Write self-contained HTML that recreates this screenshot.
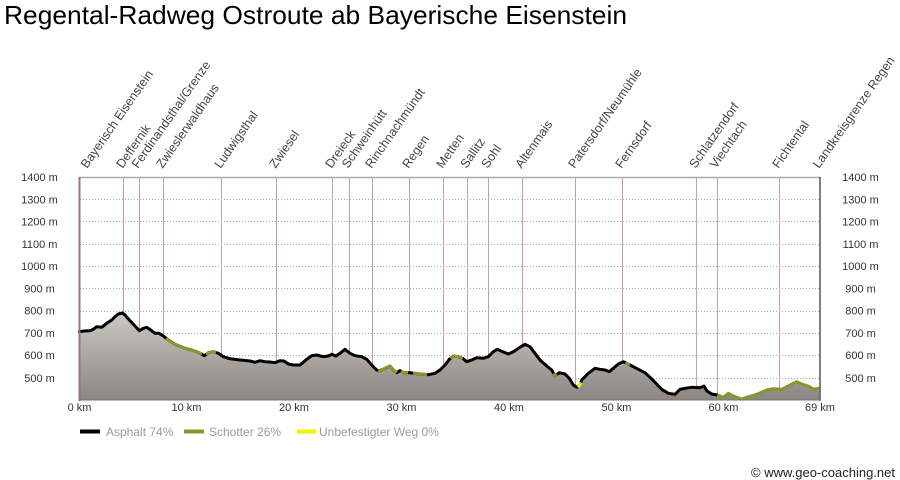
<!DOCTYPE html>
<html>
<head>
<meta charset="utf-8">
<style>
  html,body{margin:0;padding:0;background:#fff;}
  svg{display:block;}
  text{font-family:"Liberation Sans", Arial, sans-serif;}
</style>
</head>
<body>
<svg width="900" height="480" viewBox="0 0 900 480" xmlns="http://www.w3.org/2000/svg">
  <defs>
    <linearGradient id="fillg" gradientUnits="userSpaceOnUse" x1="0" y1="310" x2="0" y2="400">
      <stop offset="0" stop-color="#cdc9c5"/>
      <stop offset="1" stop-color="#8b8681"/>
    </linearGradient>
  </defs>
  <rect width="900" height="480" fill="#fff"/>

  <!-- Title -->
  <text x="4" y="24" font-size="26" fill="#000" textLength="623" lengthAdjust="spacingAndGlyphs">Regental-Radweg Ostroute ab Bayerische Eisenstein</text>

  <!-- Grid lines -->
  <g stroke="#a8a8a8" stroke-width="1" stroke-dasharray="1,2" shape-rendering="crispEdges">
    <line x1="80" y1="199.5" x2="820" y2="199.5"/>
    <line x1="80" y1="221.5" x2="820" y2="221.5"/>
    <line x1="80" y1="244.5" x2="820" y2="244.5"/>
    <line x1="80" y1="266.5" x2="820" y2="266.5"/>
    <line x1="80" y1="288.5" x2="820" y2="288.5"/>
    <line x1="80" y1="311.5" x2="820" y2="311.5"/>
    <line x1="80" y1="333.5" x2="820" y2="333.5"/>
    <line x1="80" y1="355.5" x2="820" y2="355.5"/>
    <line x1="80" y1="378.5" x2="820" y2="378.5"/>
  </g>
  <line x1="79" y1="177.5" x2="821" y2="177.5" stroke="#a9a9a9" stroke-width="1.5"/>

  <!-- Marker lines -->
  <g stroke="#cf9ba0" stroke-width="1" shape-rendering="crispEdges">
    <line x1="123.5" y1="177" x2="123.5" y2="400"/>
    <line x1="139.5" y1="177" x2="139.5" y2="400"/>
    <line x1="163.5" y1="177" x2="163.5" y2="400"/>
    <line x1="221.5" y1="177" x2="221.5" y2="400"/>
    <line x1="276.5" y1="177" x2="276.5" y2="400"/>
    <line x1="332.5" y1="177" x2="332.5" y2="400"/>
    <line x1="349.5" y1="177" x2="349.5" y2="400"/>
    <line x1="372.5" y1="177" x2="372.5" y2="400"/>
    <line x1="409.5" y1="177" x2="409.5" y2="400"/>
    <line x1="443.5" y1="177" x2="443.5" y2="400"/>
    <line x1="467.5" y1="177" x2="467.5" y2="400"/>
    <line x1="488.5" y1="177" x2="488.5" y2="400"/>
    <line x1="522.5" y1="177" x2="522.5" y2="400"/>
    <line x1="575.5" y1="177" x2="575.5" y2="400"/>
    <line x1="622.5" y1="177" x2="622.5" y2="400"/>
    <line x1="696.5" y1="177" x2="696.5" y2="400"/>
    <line x1="717.5" y1="177" x2="717.5" y2="400"/>
    <line x1="779.5" y1="177" x2="779.5" y2="400"/>
  </g>

  <!-- Profile fill -->
  <path fill="url(#fillg)" d="M79.3,331.7 L84,331 L90,330.7 L93.3,329.3 L96.7,326.7 L101.7,327.3 L106.7,323.3 L111.7,320 L115,316.7 L118.3,314 L122.3,313 L125,315 L130,320.7 L135,326 L139.3,330.7 L143.3,328.3 L146.7,327.3 L150.7,330 L155,333.3 L159,333.3 L163.3,336 L168.3,340 L175,344.3 L183.3,347.7 L191.7,350 L196.7,351.7 L201.7,354 L204.3,355.7 L208.3,352.7 L213.3,351.7 L216,352.5 L218.3,353.3 L223.3,356.7 L230,358.7 L240,360 L250,361 L255,362.3 L260,360.7 L265,361.7 L270,362 L275,362.7 L280,360.7 L284,361 L288.3,364 L293.3,365 L300,365 L306.7,359.3 L311.7,355.7 L316.7,355 L323.3,356.7 L328.3,356 L331.7,354.3 L336,356 L340,353.3 L345,349.3 L350,353.3 L355,355.7 L361.7,356.7 L366.7,359.3 L371.7,365 L376.7,370 L379.3,371 L385,368.3 L390,366 L393.3,370 L396.7,372.7 L400,370.7 L404,372.7 L410,372.7 L420,374 L428.3,374.7 L435,373.3 L440,370 L445,365 L449.3,359.3 L453.3,356 L458.3,356.7 L462.7,358.3 L466.7,361.7 L471.7,360 L476.7,357.7 L483.3,358.3 L488.3,356.7 L493.3,351.7 L497.3,349.3 L502.7,351.7 L508.3,354 L513.3,351.7 L520,347.3 L525,344.3 L530,346.7 L535,353.3 L540,360 L546.7,366 L551.7,370 L555,376 L559.3,372.7 L565,374 L569.3,378.3 L573.3,385 L576.7,387.3 L580,385 L581.7,380 L588.3,373.3 L595,368.3 L600,369.3 L605,370 L609.3,371.7 L613.3,368.3 L618.3,364 L623.3,361.7 L628.3,364 L633.3,366.7 L638.3,369.3 L645,372.7 L650,377.3 L656.7,384 L661.7,389.3 L668.3,393.3 L675,394.3 L680,389.3 L685,388.3 L691.7,387.3 L700,387.7 L704,386 L706.7,390.7 L711.7,394 L717.3,395 L723.3,397.3 L728.3,393.3 L733.3,396 L741.7,399 L746.7,397.3 L756.7,394.3 L766.7,390 L773.3,388.7 L781.7,389.3 L790,385 L796.7,381.7 L801.7,384 L808.3,386 L813.3,389 L819.3,388.3 L819.3,400 L79.3,400 Z"/>

  <!-- Profile line (asphalt, black) -->
  <path fill="none" stroke="#000" stroke-width="3" stroke-linejoin="round" stroke-linecap="round" d="M79.3,331.7 L84,331 L90,330.7 L93.3,329.3 L96.7,326.7 L101.7,327.3 L106.7,323.3 L111.7,320 L115,316.7 L118.3,314 L122.3,313 L125,315 L130,320.7 L135,326 L139.3,330.7 L143.3,328.3 L146.7,327.3 L150.7,330 L155,333.3 L159,333.3 L163.3,336 L168.3,340 L175,344.3 L183.3,347.7 L191.7,350 L196.7,351.7 L201.7,354 L204.3,355.7 L208.3,352.7 L213.3,351.7 L216,352.5 L218.3,353.3 L223.3,356.7 L230,358.7 L240,360 L250,361 L255,362.3 L260,360.7 L265,361.7 L270,362 L275,362.7 L280,360.7 L284,361 L288.3,364 L293.3,365 L300,365 L306.7,359.3 L311.7,355.7 L316.7,355 L323.3,356.7 L328.3,356 L331.7,354.3 L336,356 L340,353.3 L345,349.3 L350,353.3 L355,355.7 L361.7,356.7 L366.7,359.3 L371.7,365 L376.7,370 L379.3,371 L385,368.3 L390,366 L393.3,370 L396.7,372.7 L400,370.7 L404,372.7 L410,372.7 L420,374 L428.3,374.7 L435,373.3 L440,370 L445,365 L449.3,359.3 L453.3,356 L458.3,356.7 L462.7,358.3 L466.7,361.7 L471.7,360 L476.7,357.7 L483.3,358.3 L488.3,356.7 L493.3,351.7 L497.3,349.3 L502.7,351.7 L508.3,354 L513.3,351.7 L520,347.3 L525,344.3 L530,346.7 L535,353.3 L540,360 L546.7,366 L551.7,370 L555,376 L559.3,372.7 L565,374 L569.3,378.3 L573.3,385 L576.7,387.3 L580,385 L581.7,380 L588.3,373.3 L595,368.3 L600,369.3 L605,370 L609.3,371.7 L613.3,368.3 L618.3,364 L623.3,361.7 L628.3,364 L633.3,366.7 L638.3,369.3 L645,372.7 L650,377.3 L656.7,384 L661.7,389.3 L668.3,393.3 L675,394.3 L680,389.3 L685,388.3 L691.7,387.3 L700,387.7 L704,386 L706.7,390.7 L711.7,394 L717.3,395"/>

  <!-- Gravel (Schotter, green) segments -->
  <g fill="none" stroke="#86982a" stroke-width="3" stroke-linejoin="round">
    <path d="M166,338.6 L168.3,340 L175,344.3 L183.3,347.7 L191.7,350 L196.7,351.7 L201.7,354"/>
    <path d="M206,354.3 L208.3,352.7 L213.3,351.7 L216,352.5"/>
    <path d="M378,370.6 L379.3,371 L385,368.3 L390,366 L393.3,370 L396.7,372.7"/>
    <path d="M401,371.2 L404,372.7 L408,372.7"/>
    <path d="M413,373 L420,374 L427,374.6"/>
    <path d="M450.5,358.3 L453.3,356 L458.3,356.7 L462.7,358.3"/>
    <path d="M553.5,373.5 L555,376 L557,374.5"/>
    <path d="M625.5,362.8 L628.3,364 L630,365"/>
    <path d="M717.3,395 L723.3,397.3 L728.3,393.3 L733.3,396 L741.7,399 L746.7,397.3 L756.7,394.3 L766.7,390 L773.3,388.7 L781.7,389.3 L790,385 L796.7,381.7 L801.7,384 L808.3,386 L813.3,389 L819.3,388.3"/>
  </g>
  <!-- Unpaved (yellow) -->
  <path fill="none" stroke="#f2f200" stroke-width="3" d="M577.8,387 L580,385 L581,382.5"/>

  <!-- Axes -->
  <line x1="79.5" y1="177" x2="79.5" y2="401" stroke="#9a7080" stroke-width="2"/>
  <line x1="820" y1="177" x2="820" y2="401" stroke="#555" stroke-width="1.5"/>
  <line x1="79" y1="400" x2="820" y2="400" stroke="#7a7570" stroke-width="1"/>

  <!-- Y axis labels left -->
  <g font-size="11" fill="#333" text-anchor="middle">
    <text x="39.5" y="181">1400 m</text>
    <text x="39.5" y="203.5">1300 m</text>
    <text x="39.5" y="225.5">1200 m</text>
    <text x="39.5" y="248">1100 m</text>
    <text x="39.5" y="270">1000 m</text>
    <text x="39.5" y="292.5">900 m</text>
    <text x="39.5" y="314.5">800 m</text>
    <text x="39.5" y="337">700 m</text>
    <text x="39.5" y="359">600 m</text>
    <text x="39.5" y="382">500 m</text>
  </g>
  <!-- Y axis labels right -->
  <g font-size="11" fill="#333" text-anchor="middle">
    <text x="860.5" y="181">1400 m</text>
    <text x="860.5" y="203.5">1300 m</text>
    <text x="860.5" y="225.5">1200 m</text>
    <text x="860.5" y="248">1100 m</text>
    <text x="860.5" y="270">1000 m</text>
    <text x="860.5" y="292.5">900 m</text>
    <text x="860.5" y="314.5">800 m</text>
    <text x="860.5" y="337">700 m</text>
    <text x="860.5" y="359">600 m</text>
    <text x="860.5" y="382">500 m</text>
  </g>

  <!-- X axis labels -->
  <g font-size="11" fill="#333" text-anchor="middle">
    <text x="79.5" y="411">0 km</text>
    <text x="186.5" y="411">10 km</text>
    <text x="294" y="411">20 km</text>
    <text x="401.5" y="411">30 km</text>
    <text x="509" y="411">40 km</text>
    <text x="616.5" y="411">50 km</text>
    <text x="723.5" y="411">60 km</text>
    <text x="820" y="411">69 km</text>
  </g>

  <!-- Rotated site labels -->
  <g font-size="12.5" fill="#444">
    <text transform="translate(87,169) rotate(-55)">Bayerisch Eisenstein</text>
    <text transform="translate(122.5,169) rotate(-55)">Deffernik</text>
    <text transform="translate(138,169) rotate(-55)">Ferdinandsthal/Grenze</text>
    <text transform="translate(162.5,169) rotate(-55)">Zwieslerwaldhaus</text>
    <text transform="translate(220.5,169) rotate(-55)">Ludwigsthal</text>
    <text transform="translate(275.5,169) rotate(-55)">Zwiesel</text>
    <text transform="translate(331.5,169) rotate(-55)">Dreieck</text>
    <text transform="translate(348,169) rotate(-55)">Schweinhütt</text>
    <text transform="translate(371.5,169) rotate(-55)">Rinchnachmündt</text>
    <text transform="translate(408.5,169) rotate(-55)">Regen</text>
    <text transform="translate(442.5,169) rotate(-55)">Metten</text>
    <text transform="translate(466.5,169) rotate(-55)">Sallitz</text>
    <text transform="translate(487.5,169) rotate(-55)">Sohl</text>
    <text transform="translate(521.5,169) rotate(-55)">Altenmais</text>
    <text transform="translate(574.5,169) rotate(-55)">Patersdorf/Neumühle</text>
    <text transform="translate(621.5,169) rotate(-55)">Fernsdorf</text>
    <text transform="translate(695.5,169) rotate(-55)">Schlatzendorf</text>
    <text transform="translate(716,169) rotate(-55)">Viechtach</text>
    <text transform="translate(778.5,169) rotate(-55)">Fichtental</text>
    <text transform="translate(819,169) rotate(-55)">Landkreisgrenze Regen</text>
  </g>

  <!-- Legend -->
  <line x1="80" y1="431.5" x2="100" y2="431.5" stroke="#000" stroke-width="4"/>
  <text x="106" y="436" font-size="12" fill="#9a9a9a">Asphalt 74%</text>
  <line x1="184" y1="431.5" x2="204" y2="431.5" stroke="#86982a" stroke-width="4"/>
  <text x="209" y="436" font-size="12" fill="#9a9a9a">Schotter 26%</text>
  <line x1="297" y1="431.5" x2="316" y2="431.5" stroke="#f2f200" stroke-width="4"/>
  <text x="319" y="436" font-size="12" fill="#9a9a9a">Unbefestigter Weg 0%</text>

  <!-- Copyright -->
  <text x="895" y="477" font-size="13" fill="#222" text-anchor="end">© www.geo-coaching.net</text>
</svg>
</body>
</html>
